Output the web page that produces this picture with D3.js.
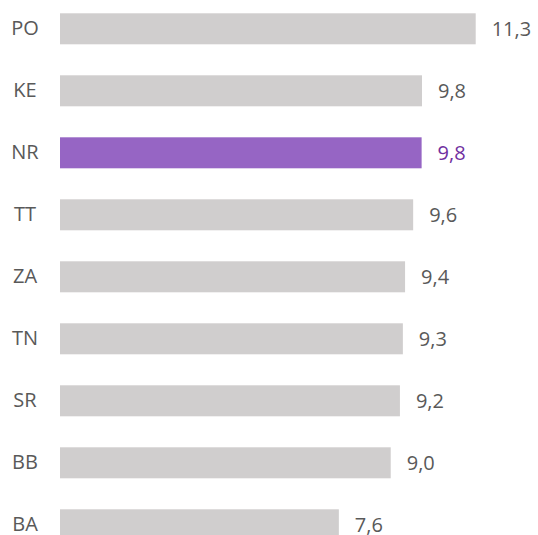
<!DOCTYPE html>
<html>
<head>
<meta charset="utf-8">
<script src="https://cdn.jsdelivr.net/npm/d3@7/dist/d3.min.js"></script>
<style>
  html, body { margin: 0; padding: 0; background: #fff; }
  svg text { font-family: "Open Sans", "Liberation Sans", sans-serif; }
</style>
</head>
<body>
<svg id="chart" width="538" height="535"></svg>
<script>
// data
var categories = ["PO", "KE", "NR", "TT", "ZA", "TN", "SR", "BB", "BA"];
var values = [11.3, 9.84, 9.83, 9.6, 9.38, 9.32, 9.24, 8.99, 7.58];
var highlight = "NR";

var svg = d3.select("#chart");

var x = d3.scaleLinear()
	.domain([0, 11.3])
	.range([60, 475.7]);

var y = d3.scaleBand()
	.domain(categories)
	.range([-17.7, 571.3])
	.padding(0.5);

var rows = categories.map(function(c, i){ return {cat: c, val: values[i]}; });

var fmt = function(v){ return d3.format(".1f")(v).replace(".", ","); };

svg.selectAll("rect.bar")
	.data(rows)
	.enter()
	.append("rect")
	.attr("class", "bar")
	.attr("x", x(0))
	.attr("y", function(d){ return y(d.cat); })
	.attr("width", function(d){ return x(d.val) - x(0); })
	.attr("height", y.bandwidth())
	.attr("fill", function(d){ return d.cat == highlight ? "#9665C4" : "#D0CECE"; });

svg.selectAll("text.val")
	.data(rows)
	.enter()
	.append("text")
	.attr("class", "val")
	.attr("x", function(d){ return x(d.val) + 16; })
	.attr("y", function(d){ return y(d.cat) + y.bandwidth() / 2; })
	.attr("dy", "0.35em")
	.attr("font-size", 20)
	.attr("fill", function(d){ return d.cat == highlight ? "#7030A0" : "#595959"; })
	.text(function(d){ return fmt(d.val); });

// category axis, no line or ticks
var yAxis = svg.append("g")
	.attr("transform", "translate(25,0)")
	.call(d3.axisLeft(y).tickSize(0).tickPadding(0));
yAxis.select(".domain").remove();
yAxis.selectAll("text")
	.attr("text-anchor", "middle")
	.attr("font-size", 20)
	.attr("fill", "#595959");
</script>
</body>
</html>
